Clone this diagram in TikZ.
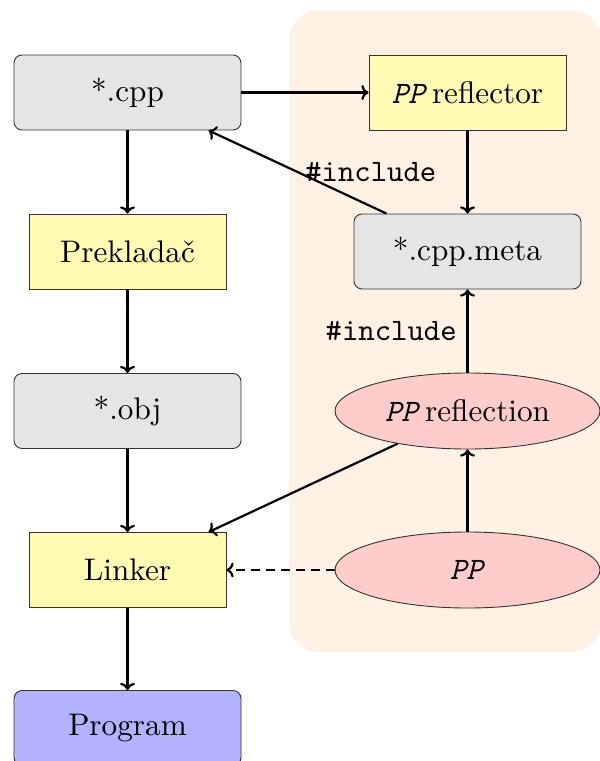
\documentclass[tikz,border=0pt]{standalone}
\usepackage{fontspec}
\setmainfont{lmroman10-regular.otf}[ItalicFont=lmroman10-italic.otf]
\setmonofont{lmmono10-regular.otf}[ItalicFont=lmmono10-italic.otf]
\usetikzlibrary{shapes.geometric,arrows.meta}
\begin{document}
\begin{tikzpicture}[x=0.5pt,y=-0.5pt,
  every node/.style={font=\fontsize{15.6}{18}\selectfont},
  filebox/.style={draw=black!80, line width=0.45pt, fill=black!10, rounded corners=4pt,
    minimum width=113.5pt, minimum height=37.5pt},
  toolbox/.style={draw=black!80, line width=0.45pt, fill=yellow!30,
    minimum width=98.5pt, minimum height=37.5pt},
  libnode/.style={draw=black!80, line width=0.45pt, fill=red!20, ellipse,
    minimum width=132.5pt, minimum height=38pt},
  outbox/.style={draw=black!80, line width=0.45pt, fill=blue!30, rounded corners=4pt,
    minimum width=113.5pt, minimum height=37.5pt},
  flow/.style={-{To[length=3.6pt,width=7.5pt]}, line width=1.1pt},
  optflow/.style={flow, dash pattern=on 4.5pt off 3pt},
  lbl/.style={font=\fontsize{15.6}{18}\selectfont\ttfamily}]
\useasboundingbox (0,0) rectangle (600,761);
\clip (0,0) rectangle (600,761);

% reflection toolchain area
\fill[orange!10, rounded corners=15pt] (289,10) rectangle (601,652);

% build pipeline
\node[filebox] (cpp)  at (127.5,92.5) {*.cpp};
\node[toolbox] (comp) at (127.5,251.5) {Prekladač};
\node[filebox] (obj)  at (127.5,411) {*.obj};
\node[toolbox] (link) at (127.5,570) {Linker};
\node[outbox]  (prog) at (127.5,728) {Program};

% reflection tools
\node[toolbox] (refl) at (467.5,92.5) {\texttt{\textit{PP}}\,reflector};
\node[filebox] (meta) at (467.5,251.5) {*.cpp.meta};
\node[libnode] (rlib) at (467.5,411) {\texttt{\textit{PP}}\,reflection};
\node[libnode] (pp)   at (467.5,570) {\texttt{\textit{PP}}};

\draw[flow] (cpp) -- (comp);
\draw[flow] (comp) -- (obj);
\draw[flow] (obj) -- (link);
\draw[flow] (link) -- (prog);

\draw[flow] (cpp) -- (refl);
\draw[flow] (refl) -- (meta);
\draw[flow] (meta) -- node[lbl, midway, anchor=west] {\#include} (cpp);
\draw[flow] (rlib) -- node[lbl, midway, left, xshift=-1.5pt] {\#include} (meta);
\draw[flow] (pp) -- (rlib);
\draw[flow] (rlib) -- (link);
\draw[optflow] (pp) -- (link);
\end{tikzpicture}
\end{document}
